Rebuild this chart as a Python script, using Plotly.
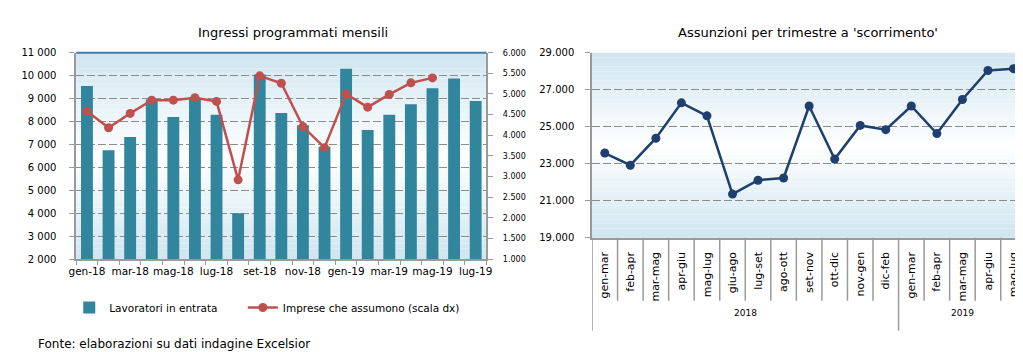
import plotly.graph_objects as go

# ---------------- data ----------------
mesi = ["gen-18", "feb-18", "mar-18", "apr-18", "mag-18", "giu-18", "lug-18", "ago-18",
        "set-18", "ott-18", "nov-18", "dic-18", "gen-19", "feb-19", "mar-19", "apr-19",
        "mag-19", "giu-19", "lug-19"]
lavoratori_in_entrata = [9550, 6750, 7320, 8960, 8200, 8990, 8290, 4000, 10050, 8370,
                         7840, 6900, 10300, 7630, 8290, 8750, 9450, 9880, 8890]
imprese_che_assumono = [4580, 4180, 4530, 4850, 4850, 4910, 4820, 2920, 5440, 5260,
                        4210, 3700, 5000, 4680, 4990, 5270, 5390]

trimestri = ["gen-mar", "feb-apr", "mar-mag", "apr-giu", "mag-lug", "giu-ago", "lug-set",
             "ago-ott", "set-nov", "ott-dic", "nov-gen", "dic-feb",
             "gen-mar", "feb-apr", "mar-mag", "apr-giu", "mag-lug"]
anni = ["2018"] * 12 + ["2019"] * 5
assunzioni = [23580, 22920, 24380, 26290, 25590, 21360, 22110, 22230, 26120, 23250,
              25070, 24840, 26120, 24630, 26470, 28040, 28140]

left_ticks = [2000, 3000, 4000, 5000, 6000, 7000, 8000, 9000, 10000, 11000]
right_ticks = [1000, 1500, 2000, 2500, 3000, 3500, 4000, 4500, 5000, 5500, 6000]
ass_ticks = [19000, 21000, 23000, 25000, 27000, 29000]

# ---------------- layout helpers ----------------
W, H = 1023, 352
def fx(p):
    return p / W
def fy(p):
    return 1 - p / H

FONT = "DejaVu Sans"
GRAY = "#9a9a9a"
GRID = "#8c8c8c"
TEAL = "#31859c"
RED = "#c0504d"
NAVY = "#1f3f6f"

def fmt_space(v):
    return f"{v:,}".replace(",", " ")
def fmt_dot(v):
    return f"{v:,}".replace(",", ".")

idx_m = list(range(len(mesi)))
idx_t = list(range(len(trimestri)))

fig = go.Figure()

fig.add_trace(go.Bar(
    x=idx_m, y=lavoratori_in_entrata, xaxis="x", yaxis="y",
    marker=dict(color=TEAL, line=dict(width=0)), width=0.55,
    name="Lavoratori in entrata", legend="legend"))

fig.add_trace(go.Scatter(
    x=idx_m[:len(imprese_che_assumono)], y=imprese_che_assumono, xaxis="x", yaxis="y2",
    mode="lines+markers", line=dict(color=RED, width=2.5),
    marker=dict(color=RED, size=9), name="Imprese che assumono (scala dx)",
    legend="legend2"))

fig.add_trace(go.Scatter(
    x=idx_t, y=assunzioni, xaxis="x2", yaxis="y3",
    mode="lines+markers", line=dict(color=NAVY, width=2.5),
    marker=dict(color=NAVY, size=9), showlegend=False))

# gradient backgrounds
def gradient(xref, yref, n=40, c=(207, 229, 240)):
    shapes = []
    for i in range(n):
        t = (i + 0.5) / n
        k = abs(t - 0.5) * 2  # 0 at middle, 1 at edges
        col = tuple(round(255 + (ci - 255) * k) for ci in c)
        shapes.append(dict(type="rect", xref=xref, yref=yref, x0=0, x1=1,
                           y0=i / n, y1=(i + 1) / n, layer="below",
                           line=dict(width=0), fillcolor="rgb(%d,%d,%d)" % col))
    return shapes

shapes = gradient("x domain", "y domain") + gradient("x2 domain", "y3 domain")
# blue top border on the left chart
shapes.append(dict(type="line", xref="x domain", yref="y domain", x0=0, x1=1, y0=1, y1=1,
                   line=dict(color="#4a78b0", width=2)))

# separators on the right chart category axis
y_axis_bottom = fy(232)
for i in range(len(trimestri)):
    b = i - 0.5
    long_sep = i == 0 or anni[i] != anni[i - 1]
    shapes.append(dict(type="line", xref="x2", yref="paper", x0=b, x1=b,
                       y0=y_axis_bottom, y1=fy(328) if long_sep else fy(297),
                       line=dict(color=GRAY, width=1.5)))

annotations = [
    dict(text="Ingressi programmati mensili", x=fx(281), y=fy(20), xref="paper", yref="paper",
         xanchor="center", yanchor="middle", showarrow=False,
         font=dict(family=FONT, size=13, color="black")),
    dict(text="Assunzioni per trimestre a 'scorrimento'", x=fx(803), y=fy(20), xref="paper",
         yref="paper", xanchor="center", yanchor="middle", showarrow=False,
         font=dict(family=FONT, size=13, color="black")),
    dict(text="Fonte: elaborazioni su dati indagine Excelsior", x=fx(20), y=fy(342),
         xref="paper", yref="paper", xanchor="left", yanchor="middle", showarrow=False,
         font=dict(family=FONT, size=12, color="black")),
]
for anno in sorted(set(anni)):
    pos = [i for i, a in enumerate(anni) if a == anno]
    annotations.append(dict(text=anno, x=sum(pos) / len(pos), y=fy(317), xref="x2",
                            yref="paper", showarrow=False,
                            font=dict(family=FONT, size=9, color="black")))

legend_common = dict(orientation="h", yanchor="middle", xanchor="left",
                     font=dict(family=FONT, size=10.5), bgcolor="rgba(0,0,0,0)")

fig.update_layout(
    width=W, height=H, margin=dict(l=0, r=0, t=0, b=0),
    paper_bgcolor="white", plot_bgcolor="rgba(0,0,0,0)",
    font=dict(family=FONT, size=9, color="black"),
    shapes=shapes, annotations=annotations,
    legend=dict(x=fx(54), y=fy(304), **legend_common),
    legend2=dict(x=fx(230), y=fy(304), **legend_common),
    xaxis=dict(domain=[fx(61), fx(477)], anchor="y", range=[-0.5, len(mesi) - 0.5],
               tickmode="array", tickvals=idx_m[::2], ticktext=mesi[::2], ticks="",
               showline=True, linecolor=GRAY, linewidth=1.5, showgrid=False, zeroline=False,
               tickfont=dict(size=10.5), ticklabelstandoff=2,
               minor=dict(tickmode="array", tickvals=[i - 0.5 for i in range(len(mesi) + 1)],
                          ticks="outside", ticklen=4, tickcolor=GRAY, showgrid=False)),
    yaxis=dict(domain=[fy(254), fy(41)], anchor="x", range=[2000, 11000],
               tickmode="array", tickvals=left_ticks, ticktext=[fmt_space(v) for v in left_ticks],
               ticks="outside", ticklen=5, tickcolor=GRAY, showline=True, linecolor=GRAY,
               linewidth=1.5, showgrid=True, gridcolor=GRID, griddash="8px,3px", gridwidth=1,
               zeroline=False, tickfont=dict(size=10), ticklabelstandoff=11),
    yaxis2=dict(overlaying="y", anchor="x", side="right", range=[1000, 6000],
                tickmode="array", tickvals=right_ticks,
                ticktext=[fmt_dot(v) for v in right_ticks],
                ticks="outside", ticklen=5, tickcolor=GRAY, showline=True, linecolor=GRAY,
                linewidth=1.5, showgrid=False, zeroline=False, tickfont=dict(size=8),
                ticklabelstandoff=8),
    xaxis2=dict(domain=[fx(584), 1], anchor="y3", range=[-0.5, 16.45],
                tickmode="array", tickvals=idx_t, ticktext=trimestri, tickangle=-90,
                ticks="", showline=True, linecolor=GRAY, linewidth=1.5, showgrid=False,
                zeroline=False, tickfont=dict(size=11), ticklabelstandoff=8),
    yaxis3=dict(domain=[fy(232), fy(41)], anchor="x2", range=[19000, 29000],
                tickmode="array", tickvals=ass_ticks, ticktext=[fmt_dot(v) for v in ass_ticks],
                ticks="outside", ticklen=5, tickcolor=GRAY, showline=True, linecolor=GRAY,
                linewidth=1.5, showgrid=True, gridcolor=GRID, griddash="8px,3px", gridwidth=1,
                zeroline=False, tickfont=dict(size=10), ticklabelstandoff=9),
)

fig.write_html("out.html")
